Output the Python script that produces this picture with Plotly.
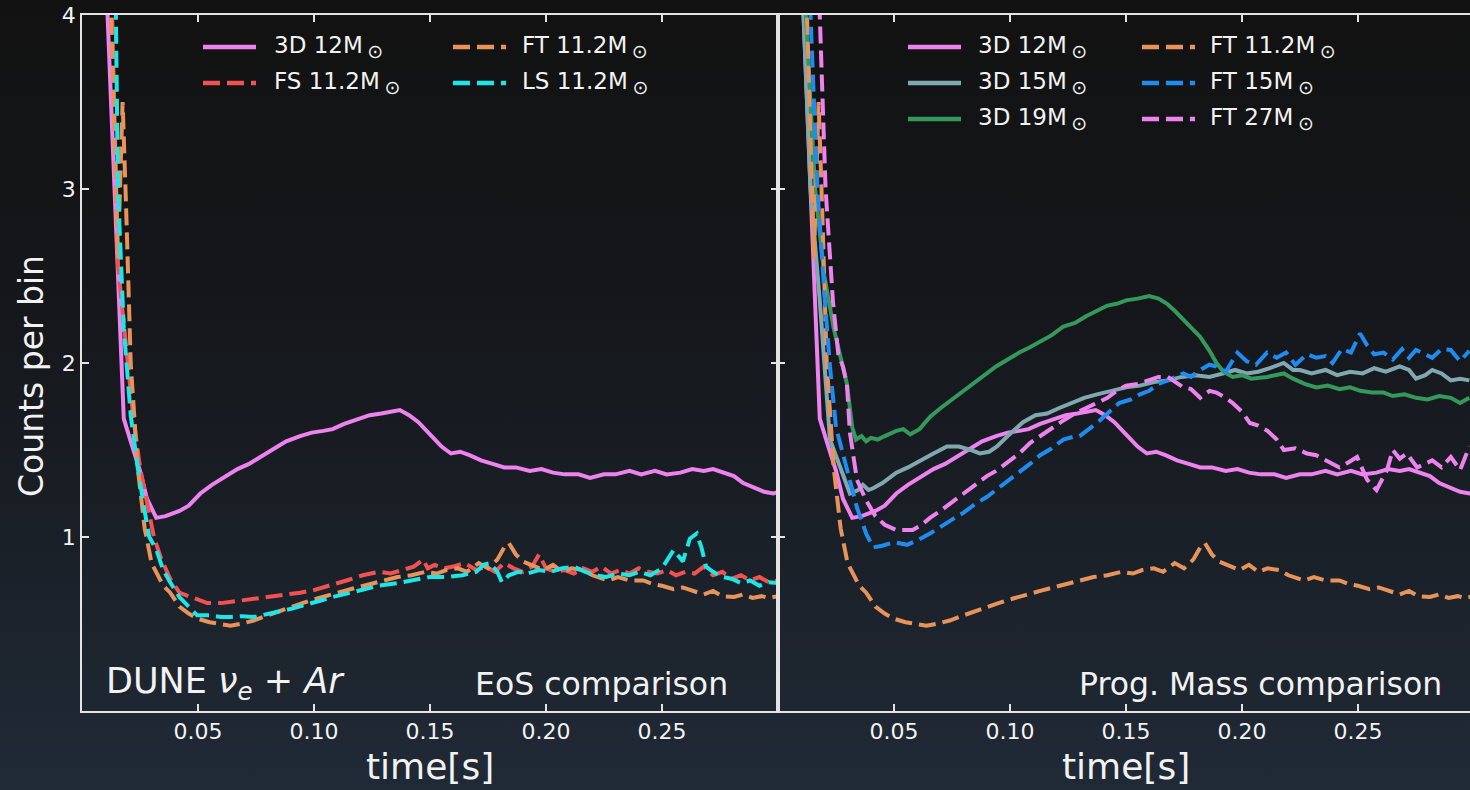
import base64
import plotly.graph_objects as go

# ---------------- data ----------------
t_3d12 = [0.008, 0.011, 0.0142, 0.0165, 0.018, 0.021, 0.025, 0.028, 0.032, 0.036, 0.042, 0.046, 0.051, 0.056,
          0.062, 0.067, 0.072, 0.078, 0.083, 0.088, 0.094, 0.099, 0.104, 0.108, 0.113, 0.118, 0.124, 0.129,
          0.133, 0.137, 0.141, 0.145, 0.150, 0.155, 0.159, 0.163, 0.167, 0.172, 0.177, 0.182, 0.187, 0.193,
          0.198, 0.203, 0.208, 0.214, 0.219, 0.225, 0.230, 0.236, 0.241, 0.247, 0.252, 0.258, 0.263, 0.268,
          0.272, 0.277, 0.281, 0.285, 0.290, 0.294, 0.298, 0.300]
y_3d12 = [5.0, 4.0, 3.0, 2.1, 1.68, 1.55, 1.38, 1.22, 1.11, 1.12, 1.15, 1.18, 1.25, 1.30, 1.35, 1.39, 1.42,
          1.47, 1.51, 1.55, 1.58, 1.60, 1.61, 1.62, 1.65, 1.67, 1.70, 1.71, 1.72, 1.73, 1.70, 1.66, 1.59, 1.52,
          1.48, 1.49, 1.47, 1.44, 1.42, 1.40, 1.40, 1.38, 1.39, 1.37, 1.36, 1.36, 1.34, 1.36, 1.36, 1.38, 1.36,
          1.38, 1.36, 1.37, 1.39, 1.38, 1.39, 1.37, 1.35, 1.31, 1.28, 1.26, 1.25, 1.26]

t_fs112 = [0.008, 0.013, 0.0155, 0.019, 0.022, 0.025, 0.028, 0.031, 0.034, 0.038, 0.042, 0.047, 0.054, 0.060,
           0.066, 0.072, 0.080, 0.088, 0.094, 0.100, 0.107, 0.114, 0.121, 0.128, 0.133, 0.138, 0.143, 0.147,
           0.149, 0.152, 0.156, 0.160, 0.165, 0.170, 0.174, 0.178, 0.182, 0.186, 0.190, 0.194, 0.197, 0.200,
           0.204, 0.208, 0.212, 0.216, 0.220, 0.224, 0.228, 0.232, 0.236, 0.240, 0.244, 0.248, 0.252, 0.256,
           0.260, 0.264, 0.268, 0.272, 0.276, 0.280, 0.284, 0.288, 0.292, 0.296, 0.300]
y_fs112 = [5.5, 4.0, 2.56, 2.1, 1.7, 1.4, 1.2, 1.0, 0.88, 0.76, 0.68, 0.655, 0.62, 0.62, 0.63, 0.645, 0.655,
           0.67, 0.68, 0.695, 0.72, 0.75, 0.78, 0.80, 0.79, 0.81, 0.83, 0.87, 0.82, 0.84, 0.82, 0.83, 0.85,
           0.81, 0.83, 0.80, 0.85, 0.82, 0.80, 0.83, 0.90, 0.82, 0.80, 0.81, 0.79, 0.82, 0.80, 0.83, 0.79, 0.81,
           0.79, 0.82, 0.80, 0.79, 0.81, 0.78, 0.80, 0.79, 0.83, 0.78, 0.80, 0.76, 0.78, 0.75, 0.77, 0.74, 0.75]

t_ft112 = [0.008, 0.0125, 0.0155, 0.0175, 0.019, 0.021, 0.024, 0.027, 0.030, 0.032, 0.035, 0.038, 0.042,
           0.046, 0.050, 0.055, 0.060, 0.064, 0.068, 0.074, 0.080, 0.088, 0.095, 0.101, 0.107, 0.113, 0.1185,
           0.124, 0.130, 0.136, 0.142, 0.148, 0.153, 0.157, 0.162, 0.166, 0.171, 0.175, 0.179, 0.182, 0.184,
           0.187, 0.190, 0.194, 0.199, 0.203, 0.207, 0.211, 0.216, 0.220, 0.224, 0.2267, 0.231, 0.236, 0.242,
           0.246, 0.250, 0.255, 0.259, 0.262, 0.265, 0.268, 0.272, 0.276, 0.281, 0.285, 0.289, 0.293, 0.296,
           0.300]
y_ft112 = [5.5, 4.0, 2.6, 3.5, 2.9, 2.0, 1.4, 1.05, 0.85, 0.80, 0.72, 0.68, 0.60, 0.56, 0.53, 0.51, 0.50,
           0.49, 0.50, 0.52, 0.55, 0.59, 0.62, 0.645, 0.665, 0.69, 0.71, 0.73, 0.75, 0.77, 0.78, 0.80, 0.79,
           0.81, 0.82, 0.80, 0.85, 0.82, 0.87, 0.94, 0.965, 0.90, 0.86, 0.84, 0.81, 0.84, 0.80, 0.82, 0.81,
           0.78, 0.76, 0.75, 0.77, 0.75, 0.75, 0.73, 0.72, 0.70, 0.71, 0.695, 0.68, 0.67, 0.69, 0.66, 0.655,
           0.67, 0.65, 0.66, 0.65, 0.66]

t_ls112 = [0.008, 0.0146, 0.0155, 0.018, 0.021, 0.024, 0.027, 0.029, 0.032, 0.035, 0.038, 0.042, 0.046,
           0.0496, 0.055, 0.060, 0.064, 0.069, 0.074, 0.080, 0.086, 0.091, 0.097, 0.103, 0.108, 0.114, 0.121,
           0.128, 0.136, 0.143, 0.150, 0.157, 0.164, 0.170, 0.173, 0.176, 0.179, 0.181, 0.184, 0.188, 0.192,
           0.197, 0.202, 0.207, 0.212, 0.217, 0.221, 0.226, 0.231, 0.236, 0.240, 0.245, 0.250, 0.255, 0.259,
           0.262, 0.265, 0.267, 0.269, 0.272, 0.276, 0.280, 0.284, 0.288, 0.292, 0.296, 0.300]
y_ls112 = [6.0, 4.0, 3.0, 2.2, 1.7, 1.4, 1.15, 1.0, 0.93, 0.81, 0.74, 0.655, 0.60, 0.55, 0.55, 0.54, 0.54,
           0.545, 0.54, 0.56, 0.575, 0.59, 0.61, 0.635, 0.655, 0.675, 0.695, 0.72, 0.735, 0.75, 0.77, 0.77,
           0.78, 0.80, 0.84, 0.85, 0.80, 0.74, 0.78, 0.80, 0.79, 0.81, 0.80, 0.82, 0.83, 0.80, 0.78, 0.77,
           0.79, 0.78, 0.80, 0.78, 0.82, 0.925, 0.86, 0.99, 1.02, 0.94, 0.83, 0.80, 0.77, 0.76, 0.735, 0.75,
           0.72, 0.74, 0.735]

t_3d15 = [0.006, 0.011, 0.014, 0.018, 0.0224, 0.027, 0.031, 0.0345, 0.0366, 0.039, 0.041, 0.045, 0.051,
          0.056, 0.0612, 0.067, 0.0728, 0.078, 0.083, 0.087, 0.091, 0.0944, 0.099, 0.1056, 0.111, 0.116, 0.121,
          0.126, 0.132, 0.1375, 0.144, 0.150, 0.156, 0.162, 0.168, 0.174, 0.180, 0.186, 0.192, 0.197, 0.202,
          0.207, 0.212, 0.218, 0.222, 0.225, 0.230, 0.236, 0.241, 0.2466, 0.252, 0.257, 0.262, 0.268, 0.272,
          0.275, 0.279, 0.282, 0.286, 0.290, 0.294, 0.298]
y_3d15 = [6.0, 4.0, 3.0, 2.36, 1.56, 1.40, 1.25, 1.27, 1.30, 1.27, 1.28, 1.31, 1.37, 1.40, 1.44, 1.48, 1.52,
          1.52, 1.50, 1.48, 1.49, 1.52, 1.58, 1.66, 1.70, 1.71, 1.74, 1.77, 1.80, 1.82, 1.84, 1.86, 1.87, 1.89,
          1.90, 1.92, 1.93, 1.92, 1.94, 1.96, 1.94, 1.95, 1.97, 2.0, 1.96, 1.96, 1.94, 1.96, 1.93, 1.95, 1.94,
          1.97, 1.95, 1.98, 1.96, 1.91, 1.93, 1.96, 1.94, 1.90, 1.91, 1.90]

t_3d19 = [0.008, 0.012, 0.016, 0.020, 0.024, 0.0275, 0.0297, 0.032, 0.0336, 0.036, 0.038, 0.040, 0.043,
          0.046, 0.049, 0.051, 0.054, 0.057, 0.061, 0.0655, 0.070, 0.075, 0.080, 0.085, 0.090, 0.094, 0.099,
          0.104, 0.1086, 0.113, 0.118, 0.123, 0.128, 0.133, 0.1375, 0.142, 0.146, 0.150, 0.155, 0.160, 0.164,
          0.1677, 0.171, 0.1747, 0.178, 0.182, 0.186, 0.189, 0.192, 0.196, 0.200, 0.204, 0.2108, 0.214, 0.218,
          0.222, 0.227, 0.232, 0.237, 0.242, 0.2466, 0.251, 0.256, 0.261, 0.265, 0.270, 0.275, 0.280, 0.285,
          0.290, 0.294, 0.298]
y_3d19 = [6.0, 4.0, 3.0, 2.5, 2.2, 2.0, 1.88, 1.63, 1.56, 1.58, 1.55, 1.57, 1.56, 1.58, 1.60, 1.61, 1.62,
          1.59, 1.62, 1.69, 1.74, 1.79, 1.84, 1.89, 1.94, 1.98, 2.02, 2.06, 2.09, 2.12, 2.16, 2.21, 2.23, 2.27,
          2.30, 2.33, 2.34, 2.36, 2.37, 2.385, 2.37, 2.34, 2.30, 2.25, 2.20, 2.15, 2.07, 2.0, 1.95, 1.92, 1.93,
          1.91, 1.92, 1.93, 1.94, 1.91, 1.88, 1.86, 1.87, 1.85, 1.86, 1.84, 1.83, 1.83, 1.81, 1.82, 1.80, 1.79,
          1.81, 1.80, 1.77, 1.80]

t_ft15 = [0.008, 0.014, 0.017, 0.020, 0.0224, 0.025, 0.0297, 0.034, 0.038, 0.041, 0.045, 0.050, 0.0556,
          0.060, 0.0655, 0.070, 0.075, 0.080, 0.085, 0.090, 0.094, 0.099, 0.104, 0.1086, 0.113, 0.118, 0.123,
          0.127, 0.130, 0.134, 0.1375, 0.142, 0.147, 0.152, 0.156, 0.160, 0.164, 0.168, 0.1747, 0.178, 0.182,
          0.186, 0.189, 0.193, 0.198, 0.202, 0.206, 0.2108, 0.215, 0.219, 0.223, 0.228, 0.232, 0.236, 0.239,
          0.243, 0.247, 0.2509, 0.254, 0.257, 0.261, 0.265, 0.269, 0.272, 0.275, 0.279, 0.282, 0.286, 0.290,
          0.294, 0.298]
y_ft15 = [6.0, 4.0, 3.0, 2.4, 1.98, 1.63, 1.40, 1.17, 1.02, 0.94, 0.95, 0.97, 0.955, 0.98, 1.02, 1.06, 1.10,
          1.14, 1.19, 1.23, 1.27, 1.32, 1.37, 1.42, 1.47, 1.51, 1.56, 1.575, 1.58, 1.62, 1.655, 1.71, 1.77,
          1.79, 1.82, 1.84, 1.88, 1.90, 1.94, 1.92, 1.96, 1.99, 1.98, 1.95, 2.06, 2.01, 1.99, 2.06, 2.03, 2.06,
          1.99, 2.05, 2.03, 2.04, 2.0, 2.08, 2.06, 2.17, 2.10, 2.05, 2.06, 2.02, 2.08, 2.03, 2.075, 2.05, 2.03,
          2.08, 2.075, 2.01, 2.07]

t_ft27 = [0.010, 0.018, 0.0205, 0.0237, 0.026, 0.028, 0.0297, 0.031, 0.034, 0.038, 0.042, 0.046, 0.051,
          0.058, 0.062, 0.0655, 0.070, 0.075, 0.080, 0.085, 0.090, 0.094, 0.099, 0.104, 0.1086, 0.113, 0.118,
          0.123, 0.128, 0.133, 0.1375, 0.142, 0.146, 0.150, 0.155, 0.160, 0.164, 0.168, 0.171, 0.1747, 0.178,
          0.182, 0.186, 0.189, 0.193, 0.196, 0.200, 0.2034, 0.207, 0.211, 0.215, 0.218, 0.223, 0.228, 0.232,
          0.2366, 0.242, 0.246, 0.2496, 0.2539, 0.258, 0.2625, 0.265, 0.268, 0.271, 0.2755, 0.279, 0.282,
          0.286, 0.290, 0.294, 0.298]
y_ft27 = [6.0, 4.0, 3.0, 2.35, 2.05, 1.98, 1.88, 1.60, 1.33, 1.21, 1.12, 1.07, 1.04, 1.04, 1.07, 1.11, 1.15,
          1.20, 1.25, 1.30, 1.35, 1.38, 1.43, 1.48, 1.54, 1.58, 1.63, 1.67, 1.71, 1.74, 1.77, 1.80, 1.84, 1.87,
          1.88, 1.90, 1.92, 1.92, 1.89, 1.86, 1.85, 1.80, 1.84, 1.83, 1.80, 1.77, 1.72, 1.655, 1.64, 1.61,
          1.56, 1.50, 1.51, 1.48, 1.47, 1.44, 1.40, 1.43, 1.46, 1.33, 1.27, 1.385, 1.50, 1.45, 1.48, 1.40,
          1.42, 1.44, 1.40, 1.46, 1.385, 1.52]

x_ticks = [0.05, 0.10, 0.15, 0.20, 0.25]
x_tick_text = ["0.05", "0.10", "0.15", "0.20", "0.25"]
y_ticks = [1, 2, 3, 4]
y_tick_text = ["1", "2", "3", "4"]

SUN = "\u2009<sub><span style='font-size:19px'>⊙</span></sub>"
left_series = [
    ("3D 12M" + SUN, t_3d12, y_3d12, "#ee82ee", "solid"),
    ("FS 11.2M" + SUN, t_fs112, y_fs112, "#f25252", "dash"),
    ("FT 11.2M" + SUN, t_ft112, y_ft112, "#e8935a", "dash"),
    ("LS 11.2M" + SUN, t_ls112, y_ls112, "#1ee6e6", "dash"),
]
right_series = [
    ("3D 12M" + SUN, t_3d12, y_3d12, "#ee82ee", "solid"),
    ("3D 15M" + SUN, t_3d15, y_3d15, "#80a8b0", "solid"),
    ("3D 19M" + SUN, t_3d19, y_3d19, "#34995a", "solid"),
    ("FT 11.2M" + SUN, t_ft112, y_ft112, "#e8935a", "dash"),
    ("FT 15M" + SUN, t_ft15, y_ft15, "#1e8cf0", "dash"),
    ("FT 27M" + SUN, t_ft27, y_ft27, "#ee82ee", "dash"),
]

# ---------------- layout geometry ----------------
W, H = 1470, 790
ML, MR, MT, MB = 82, 0, 15, 79
PW, PH = W - ML - MR, H - MT - MB
SPLIT = (778 - ML) / PW

def px(x):
    return (x - ML) / PW

def py(y):
    return (H - MB - y) / PH

FONT = "DejaVu Sans"
TXT = "#f2f2f2"
AX = "#e4e4e4"
LW = 4
DASH = "17px,7px"

fig = go.Figure()

for name, t, y, c, d in left_series:
    fig.add_trace(go.Scatter(x=t, y=y, mode="lines", name=name, showlegend=False,
                             line=dict(color=c, width=LW, dash=DASH if d == "dash" else "solid"),
                             xaxis="x", yaxis="y"))
for name, t, y, c, d in right_series:
    fig.add_trace(go.Scatter(x=t, y=y, mode="lines", name=name, showlegend=False,
                             line=dict(color=c, width=LW, dash=DASH if d == "dash" else "solid"),
                             xaxis="x2", yaxis="y2"))

axis_common = dict(showgrid=False, zeroline=False, showline=True, linecolor=AX, linewidth=1.5,
                   ticks="inside", ticklen=7, tickwidth=1.5, tickcolor=AX,
                   tickfont=dict(family=FONT, size=22, color=TXT))

fig.update_layout(
    width=W, height=H,
    margin=dict(l=ML, r=MR, t=MT, b=MB, pad=0),
    paper_bgcolor="#161a1f",
    plot_bgcolor="rgba(0,0,0,0)",
    showlegend=False,
    font=dict(family=FONT, size=22, color=TXT),
    xaxis=dict(domain=[0, SPLIT], range=[0, 0.3], tickvals=x_ticks, ticktext=x_tick_text,
               mirror="ticks", anchor="y", **axis_common),
    yaxis=dict(domain=[0, 1], range=[0, 4], tickvals=y_ticks, ticktext=y_tick_text,
               mirror="ticks", anchor="x", **axis_common),
    xaxis2=dict(domain=[SPLIT, 1], range=[0, (W - 778) / 2320.0], tickvals=x_ticks, ticktext=x_tick_text,
                mirror="ticks", anchor="y2", **axis_common),
    yaxis2=dict(domain=[0, 1], range=[0, 4], tickvals=y_ticks, ticktext=y_tick_text,
                showticklabels=False, mirror=False, anchor="x2", **axis_common),
)

# gradient page background
svg = ('<svg xmlns="http://www.w3.org/2000/svg" width="1470" height="790" preserveAspectRatio="none">'
       '<defs><linearGradient id="g" x1="0" y1="0" x2="0" y2="1">'
       '<stop offset="0" stop-color="#121212"/><stop offset="0.4" stop-color="#15171b"/>'
       '<stop offset="1" stop-color="#202a36"/></linearGradient></defs>'
       '<rect width="1470" height="790" fill="url(#g)"/></svg>')
src = "data:image/svg+xml;base64," + base64.b64encode(svg.encode()).decode()
fig.add_layout_image(dict(source=src, xref="paper", yref="paper", x=px(0), y=py(0),
                          sizex=W / PW, sizey=H / PH, xanchor="left", yanchor="top",
                          sizing="stretch", layer="below", opacity=1))

# legends (drawn as swatches + text)
def legend_entry(x0, x1, xt, yc, name, color, dash):
    fig.add_shape(type="line", xref="paper", yref="paper", x0=px(x0), x1=px(x1), y0=py(yc), y1=py(yc),
                  line=dict(color=color, width=LW + 0.5, dash=DASH if dash == "dash" else "solid"))
    fig.add_annotation(xref="paper", yref="paper", x=px(xt), y=py(yc), text=name, showarrow=False,
                       xanchor="left", yanchor="middle", font=dict(family=FONT, size=23, color=TXT))

rows = [47, 83, 119]
left_cols = [[0, 1], [2, 3]]
for ci, idxs in enumerate(left_cols):
    for ri, k in enumerate(idxs):
        name, _, _, c, d = left_series[k]
        if ci == 0:
            legend_entry(203, 256, 272, rows[ri], name, c, d)
        else:
            legend_entry(453, 506, 520, rows[ri], name, c, d)
right_cols = [[0, 1, 2], [3, 4, 5]]
for ci, idxs in enumerate(right_cols):
    for ri, k in enumerate(idxs):
        name, _, _, c, d = right_series[k]
        if ci == 0:
            legend_entry(908, 961, 976, rows[ri], name, c, d)
        else:
            legend_entry(1142, 1195, 1208, rows[ri], name, c, d)

# panel annotations
fig.add_annotation(xref="paper", yref="paper", x=px(104), y=py(683), xanchor="left", yanchor="middle",
                   text="DUNE <i>ν</i><sub><i>e</i></sub> + <i>Ar</i>", showarrow=False,
                   font=dict(family=FONT, size=35, color=TXT))
fig.add_annotation(xref="paper", yref="paper", x=px(730), y=py(684), xanchor="right", yanchor="middle",
                   text="EoS comparison", showarrow=False, font=dict(family=FONT, size=31.5, color=TXT))
fig.add_annotation(xref="paper", yref="paper", x=px(1444), y=py(684), xanchor="right", yanchor="middle",
                   text="Prog. Mass comparison", showarrow=False, font=dict(family=FONT, size=31.5, color=TXT))

# axis titles
fig.add_annotation(xref="paper", yref="paper", x=px(430), y=py(766), xanchor="center", yanchor="middle",
                   text="time[s]", showarrow=False, font=dict(family=FONT, size=36, color=TXT))
fig.add_annotation(xref="paper", yref="paper", x=px(1126), y=py(766), xanchor="center", yanchor="middle",
                   text="time[s]", showarrow=False, font=dict(family=FONT, size=36, color=TXT))
fig.add_annotation(xref="paper", yref="paper", x=px(31), y=py(376), xanchor="center", yanchor="middle",
                   text="Counts per bin", textangle=-90, showarrow=False,
                   font=dict(family=FONT, size=33, color=TXT))

fig.write_html("out.html")
